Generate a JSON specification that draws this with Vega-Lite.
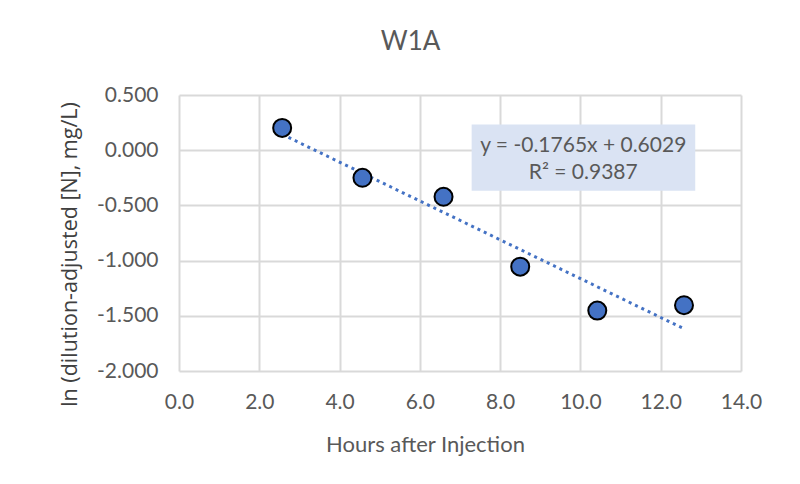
{
  "$schema": "https://vega.github.io/schema/vega-lite/v6.json",
  "width": 562,
  "height": 276,
  "autosize": {"type": "none"},
  "padding": {"left": 179, "top": 95, "right": 59, "bottom": 113},
  "background": "white",
  "config": {
    "locale": {"number": {"decimal": ".", "thousands": ",", "grouping": [3], "currency": ["$", ""], "minus": "-"}},
    "view": {"stroke": null},
    "font": "Lato"
  },
  "title": {
    "text": "W1A",
    "frame": "bounds",
    "anchor": "middle",
    "fontSize": 26,
    "font": "Lato",
    "fontWeight": "normal",
    "color": "#595959",
    "offset": 29
  },
  "data": {
    "values": [
      {"hours": 2.57, "ln": 0.202},
      {"hours": 4.57, "ln": -0.25},
      {"hours": 6.59, "ln": -0.422},
      {"hours": 8.5, "ln": -1.055},
      {"hours": 10.42, "ln": -1.453},
      {"hours": 12.58, "ln": -1.404}
    ]
  },
  "encoding": {
    "x": {
      "field": "hours",
      "type": "quantitative",
      "scale": {"domain": [0, 14], "nice": false, "zero": false},
      "axis": {
        "title": "Hours after Injection",
        "values": [0, 2, 4, 6, 8, 10, 12, 14],
        "format": ".1f",
        "grid": true,
        "gridColor": "#d9d9d9",
        "gridWidth": 2,
        "domain": false,
        "ticks": false,
        "labelFlush": false,
        "labelPadding": 20,
        "labelFontSize": 21,
        "labelColor": "#595959",
        "labelFont": "Lato",
        "titleFont": "Lato",
        "titleFontSize": 22,
        "titleFontWeight": "normal",
        "titleColor": "#595959",
        "titlePadding": 22,
        "titleX": 246,
        "titleAlign": "center"
      }
    },
    "y": {
      "field": "ln",
      "type": "quantitative",
      "scale": {"domain": [-2, 0.5], "nice": false, "zero": false},
      "axis": {
        "title": "ln (dilution-adjusted [N], mg/L)",
        "values": [-2, -1.5, -1, -0.5, 0, 0.5],
        "format": ".3f",
        "grid": true,
        "gridColor": "#d9d9d9",
        "gridWidth": 2,
        "domain": false,
        "ticks": false,
        "labelFlush": false,
        "labelPadding": 21,
        "labelFontSize": 21,
        "labelColor": "#595959",
        "labelFont": "Lato",
        "titleFont": "Open Sans",
        "titleFontSize": 21.5,
        "titleFontWeight": "normal",
        "titleColor": "#404040",
        "titlePadding": 15,
        "titleLimit": 1000,
        "titleY": 159,
        "titleAlign": "center"
      }
    }
  },
  "layer": [
    {
      "transform": [{"filter": "datum.hours == 8.5"}],
      "mark": {"type": "rect", "fill": "#dae3f3", "stroke": null},
      "encoding": {
        "x": {"datum": 7.29},
        "x2": {"datum": 12.86},
        "y": {"datum": 0.232},
        "y2": {"datum": -0.368}
      }
    },
    {
      "transform": [{"regression": "ln", "on": "hours"}],
      "mark": {"type": "line", "color": "#4472c4", "strokeWidth": 3, "strokeDash": [3, 4]},
      "encoding": {}
    },
    {
      "mark": {"type": "point", "shape": "circle", "filled": true, "fill": "#4472c4", "stroke": "black", "strokeWidth": 2, "size": 324, "opacity": 1}
    },
    {
      "transform": [{"filter": "datum.hours == 8.5"}],
      "mark": {"type": "text", "fontSize": 21, "font": "Lato", "fontWeight": 400, "fill": "#595959", "align": "center", "baseline": "middle", "lineHeight": 27},
      "encoding": {
        "x": {"datum": 10.07},
        "y": {"datum": 0.04},
        "text": {"value": ["y = -0.1765x + 0.6029", "R² = 0.9387"]}
      }
    }
  ]
}
